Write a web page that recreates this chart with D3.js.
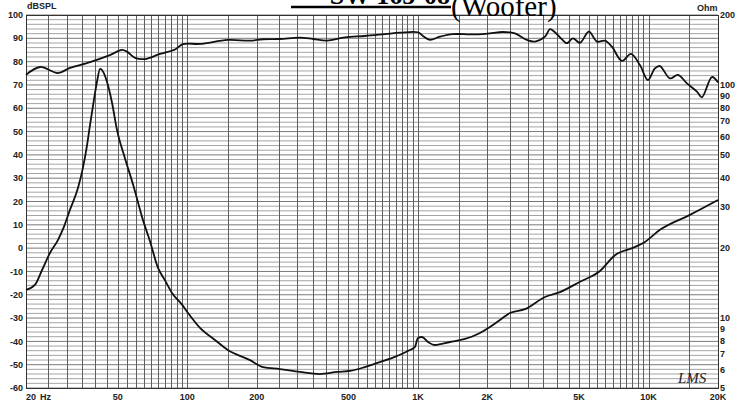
<!DOCTYPE html>
<html>
<head>
<meta charset="utf-8">
<script src="https://cdn.jsdelivr.net/npm/d3@7"></script>
<style>
  body { margin: 0; background: #fff; }
  svg { display: block; }
  .lbl { font-family: "Liberation Sans", Arial, sans-serif; font-weight: bold; font-size: 9px; fill: #222; }
</style>
</head>
<body>
<div id="chart"></div>
<script>
// frequency response (dB SPL) of the woofer
var splFreq = [20, 23, 27.5, 31, 37.9, 46.2, 52.1, 54.8, 59.4, 65.6, 76.2, 88.5, 95.8, 113.6, 150, 187, 213, 252, 308, 351, 403, 483, 589, 720, 836, 1000, 1052, 1128, 1246, 1419, 1681, 1914, 2052, 2337, 2634, 2970, 3217, 3555, 3736, 3926, 4211, 4426, 4700, 5040, 5514, 5973, 6468, 6936, 7666, 8387, 9173, 9940, 10656, 11203, 12376, 13406, 14666, 16208, 17035, 18820, 20000];
var splDb = [74.3, 77.7, 75.1, 77.3, 79.8, 82.8, 85.0, 84.3, 81.6, 81.1, 83.3, 85.2, 87.5, 87.6, 89.3, 89.0, 89.6, 89.7, 90.3, 89.7, 89.0, 90.4, 91.0, 91.8, 92.4, 92.6, 91.0, 89.3, 90.7, 91.8, 91.7, 91.8, 92.1, 92.7, 92.1, 89.3, 88.6, 90.7, 93.9, 92.6, 89.6, 87.9, 90.0, 88.1, 92.9, 88.6, 89.0, 86.4, 80.3, 83.3, 78.5, 72.1, 77.1, 78.1, 72.8, 74.3, 70.7, 67.1, 64.7, 73.4, 71.1];

// impedance (Ohm)
var impFreq = [20, 21.9, 23.5, 25.4, 27.5, 29.2, 31, 33.6, 35.3, 36.8, 37.9, 39.4, 40.6, 41.9, 43.6, 45.3, 47.2, 49.6, 53.7, 58.2, 64.3, 68.9, 74.7, 80.1, 85.9, 94.9, 100.8, 113.6, 131.9, 150, 187, 213, 252, 308, 376, 446, 508, 589, 684, 795, 923, 971, 1000, 1041, 1105, 1186, 1377, 1600, 1858, 2052, 2268, 2506, 2911, 3555, 4127, 5040, 6155, 7149, 8555, 9645, 11203, 15109, 20000];
var impOhm = [13.2, 13.9, 16.1, 19.0, 21.6, 24.6, 29.1, 36.1, 44.1, 55.3, 67.4, 86.3, 103.1, 117.3, 112.0, 100.0, 84.0, 64.2, 48.5, 37.5, 26.3, 21.4, 16.4, 14.5, 12.8, 11.4, 10.5, 9.06, 8.04, 7.28, 6.59, 6.15, 6.03, 5.86, 5.74, 5.86, 5.92, 6.15, 6.46, 6.80, 7.28, 7.50, 8.20, 8.28, 7.88, 7.65, 7.88, 8.12, 8.62, 9.14, 9.80, 10.5, 10.9, 12.3, 12.9, 14.3, 15.9, 18.6, 20.0, 21.2, 23.9, 27.7, 32.1];

// axis labels
var freqTicks = [20, 50, 100, 200, 500, 1000, 2000, 5000, 10000, 20000];
var freqText = ["20", "50", "100", "200", "500", "1K", "2K", "5K", "10K", "20K"];
var dbTicks = [100, 90, 80, 70, 60, 50, 40, 30, 20, 10, 0, -10, -20, -30, -40, -50, -60];
var ohmTicks = [200, 100, 90, 80, 70, 60, 50, 40, 30, 20, 10, 9, 8, 7, 6, 5];

var W = 738, H = 403;
var L = 26, R = 718, T = 15, B = 388;

var svg = d3.select("#chart").append("svg")
    .attr("width", W).attr("height", H);

var x = d3.scaleLog().domain([20, 20000]).range([L, R]);
var yDb = d3.scaleLinear().domain([-60, 100]).range([B, T]);
var yOhm = d3.scaleLog().domain([5, 200]).range([B, T]);

// grid: vertical lines every half-step of each decade
var vLines = [];
d3.range(20, 100, 5).forEach(function (f) { vLines.push(f); });
[100, 1000, 10000].forEach(function (dec) {
  d3.range(1, 10.01, 0.5).forEach(function (k) {
    var f = dec * k;
    if (f <= 20000 && vLines.indexOf(f) < 0) vLines.push(f);
  });
});

var grid = svg.append("g");
grid.selectAll("line.h").data(d3.range(-60, 101, 2)).enter().append("line")
    .attr("x1", L).attr("x2", R)
    .attr("y1", function (d) { return yDb(d); })
    .attr("y2", function (d) { return yDb(d); })
    .attr("stroke", function (d) { return d % 10 === 0 ? "#7a7a7a" : "#a4a4a4"; })
    .attr("stroke-width", 1);

grid.selectAll("line.v").data(vLines).enter().append("line")
    .attr("y1", T).attr("y2", B)
    .attr("x1", function (d) { return Math.round(x(d)) + 0.5; })
    .attr("x2", function (d) { return Math.round(x(d)) + 0.5; })
    .attr("stroke", "#5e5e5e")
    .attr("stroke-width", 1);

svg.append("rect")
    .attr("x", L + 0.5).attr("y", T + 0.5)
    .attr("width", R - L).attr("height", B - T)
    .attr("fill", "none").attr("stroke", "#333").attr("stroke-width", 1);

// curves
var splLine = d3.line()
    .x(function (d, i) { return x(splFreq[i]); })
    .y(function (d) { return yDb(d); })
    .curve(d3.curveCatmullRom.alpha(0.5));

var impLine = d3.line()
    .x(function (d, i) { return x(impFreq[i]); })
    .y(function (d) { return yOhm(d); })
    .curve(d3.curveMonotoneX);

svg.append("path").attr("d", splLine(splDb))
    .attr("fill", "none").attr("stroke", "#111").attr("stroke-width", 1.8);
svg.append("path").attr("d", impLine(impOhm))
    .attr("fill", "none").attr("stroke", "#111").attr("stroke-width", 1.8);

// left axis labels
svg.selectAll("text.db").data(dbTicks).enter().append("text")
    .attr("class", "lbl")
    .attr("x", 23).attr("y", function (d) { return yDb(d); })
    .attr("dy", "0.35em").attr("text-anchor", "end")
    .text(function (d) { return d; });

// right axis labels
svg.selectAll("text.ohm").data(ohmTicks).enter().append("text")
    .attr("class", "lbl")
    .attr("x", 720).attr("y", function (d) { return yOhm(d); })
    .attr("dy", "0.35em").attr("text-anchor", "start")
    .text(function (d) { return d; });

// bottom labels
svg.selectAll("text.fq").data(freqTicks).enter().append("text")
    .attr("class", "lbl")
    .attr("x", function (d) { return x(d); }).attr("y", 397)
    .attr("dy", "0.35em")
    .attr("text-anchor", function (d, i) { return i === 0 ? "start" : "middle"; })
    .text(function (d, i) { return freqText[i]; });
svg.append("text").attr("class", "lbl").attr("x", 40).attr("y", 397).attr("dy", "0.35em").text("Hz");

svg.append("text").attr("class", "lbl").attr("x", 27).attr("y", 6).attr("dy", "0.35em").text("dBSPL");
svg.append("text").attr("class", "lbl").attr("x", 697).attr("y", 8).attr("dy", "0.35em").text("Ohm");

// title, partly cut off at the top as in the original
svg.append("text")
    .attr("x", 450).attr("y", 4)
    .attr("text-anchor", "end")
    .style("font-family", "'Liberation Serif', 'Times New Roman', serif")
    .style("font-weight", "bold").style("font-size", "26px")
    .text("SW 165-08");
svg.append("line").attr("x1", 291).attr("x2", 451).attr("y1", 7).attr("y2", 7)
    .attr("stroke", "#000").attr("stroke-width", 2.5);
svg.append("text")
    .attr("x", 451).attr("y", 16)
    .style("font-family", "'Liberation Serif', 'Times New Roman', serif")
    .style("font-size", "29px")
    .text("(Woofer)");

svg.append("text")
    .attr("x", 678).attr("y", 383)
    .style("font-family", "'Liberation Serif', serif")
    .style("font-style", "italic").style("font-size", "15px").attr("fill", "#222")
    .text("LMS");
</script>
</body>
</html>
